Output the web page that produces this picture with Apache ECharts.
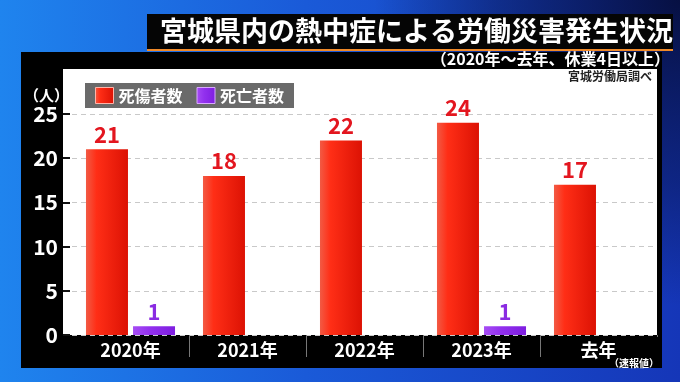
<!DOCTYPE html>
<html>
<head>
<meta charset="utf-8">
<script src="https://cdn.jsdelivr.net/npm/echarts@6/dist/echarts.min.js"></script>
<style>
html,body{margin:0;padding:0;background:#1a5ad8;}
#c{width:680px;height:382px;}
</style>
</head>
<body>
<div id="c"></div>
<script>
const titleText = '宮城県内の熱中症による労働災害発生状況';
const subtitleText = '（2020年～去年、休業4日以上）';
const sourceText = '宮城労働局調べ';
const unitText = '（人）';
const noteText = '（速報値）';
const categories = ['2020年', '2021年', '2022年', '2023年', '去年'];
const seriesNames = ['死傷者数', '死亡者数'];
const casualties = [21, 18, 22, 24, 17];
const deaths = [1, null, null, 1, null];
const yTicks = [0, 5, 10, 15, 20, 25];

const FONT = '"Noto Sans CJK JP", "Noto Sans", sans-serif';
const chart = echarts.init(document.getElementById('c'));

const redGrad = new echarts.graphic.LinearGradient(0, 0, 1, 0, [
  {offset: 0, color: '#f25a44'},
  {offset: 0.25, color: '#ff2e16'},
  {offset: 1, color: '#dc1204'}
]);
const purpleGrad = new echarts.graphic.LinearGradient(0, 0, 1, 0, [
  {offset: 0, color: '#a64cf4'},
  {offset: 0.4, color: '#9230ee'},
  {offset: 1, color: '#7e1ee0'}
]);

chart.setOption({
  animation: false,
  backgroundColor: 'transparent',
  graphic: [
    {type: 'rect', z: -100, shape: {x: 0, y: 0, width: 680, height: 382},
      style: {fill: new echarts.graphic.LinearGradient(0, 0, 1, 0, [
        {offset: 0, color: '#1f84ee'},
        {offset: 0.45, color: '#1a5ad8'},
        {offset: 1, color: '#1536b8'}
      ])}},
    {type: 'rect', z: -99, shape: {x: 0, y: 0, width: 680, height: 382},
      style: {fill: new echarts.graphic.RadialGradient(1, 0, 0.8, [
        {offset: 0, color: 'rgba(6,14,60,0.95)'},
        {offset: 0.6, color: 'rgba(8,20,80,0.5)'},
        {offset: 1, color: 'rgba(8,20,80,0)'}
      ])}},
    {type: 'rect', z: -90, shape: {x: 21, y: 52, width: 641, height: 316}, style: {fill: '#000'}},
    {type: 'rect', z: -89, shape: {x: 63, y: 69, width: 594, height: 266}, style: {fill: '#fff'}},
    {type: 'rect', z: -80, shape: {x: 147, y: 14, width: 526, height: 36}, style: {fill: '#050505'}},
    {type: 'rect', z: -79, shape: {x: 147, y: 49, width: 526, height: 2}, style: {fill: '#f08a2a'}},
    {type: 'rect', z: 50, shape: {x: 653, y: 337, width: 9, height: 26}, style: {fill: '#000'}},
    {type: 'text', z: 100, left: 160, top: 17,
      style: {text: titleText, fill: '#fff', font: 'bold 27px ' + FONT}},
    {type: 'text', z: 100, right: 10, top: 51,
      style: {text: subtitleText, fill: '#fff', font: 'bold 16px ' + FONT}},
    {type: 'text', z: 100, right: 28, top: 70,
      style: {text: sourceText, fill: '#222', font: 'bold 12px ' + FONT}},
    {type: 'text', z: 100, left: 24, top: 88,
      style: {text: unitText, fill: '#fff', font: 'bold 15px ' + FONT}},
    {type: 'text', z: 100, left: 609, top: 358,
      style: {text: noteText, fill: '#fff', font: 'bold 10px ' + FONT}}
  ],
  legend: {
    left: 85, top: 83,
    itemWidth: 18, itemHeight: 16, itemGap: 14,
    padding: [4, 10, 4, 10],
    backgroundColor: '#6a6a6a',
    textStyle: {color: '#fff', fontSize: 16, fontWeight: 'bold', fontFamily: FONT},
    data: [
      {name: seriesNames[0], icon: 'rect', itemStyle: {borderColor: '#ffb3a8', borderWidth: 1}},
      {name: seriesNames[1], icon: 'rect', itemStyle: {borderColor: '#d9a8ff', borderWidth: 1}}
    ]
  },
  grid: {left: 72, right: 23, top: 114, bottom: 47},
  xAxis: {
    type: 'category',
    data: categories,
    offset: 3,
    axisLine: {show: false},
    axisTick: {show: true, length: 22, lineStyle: {color: '#777', width: 1},
      interval: function (i) { return i > 0; }},
    axisLabel: {color: '#fff', fontSize: 18, fontWeight: 'bold', fontFamily: FONT, margin: 3}
  },
  yAxis: {
    type: 'value', min: 0, max: 25, interval: 5,
    offset: 9,
    axisLine: {show: false},
    axisTick: {show: true, inside: true, length: 7, lineStyle: {color: '#111', width: 2}},
    axisLabel: {color: '#fff', fontSize: 21, fontWeight: 'bold', fontFamily: FONT, margin: 5,
      customValues: yTicks},
    splitLine: {lineStyle: {color: '#c9c9c9', type: [5, 4], width: 1}}
  },
  series: [
    {
      name: seriesNames[0], type: 'bar', data: casualties,
      barWidth: 42, barGap: '12%',
      itemStyle: {color: redGrad},
      label: {show: true, position: 'top', distance: 4, color: '#e3161f',
        fontSize: 22, fontWeight: 'bold', fontFamily: FONT}
    },
    {
      name: seriesNames[1], type: 'bar', data: deaths,
      barWidth: 42,
      itemStyle: {color: purpleGrad},
      label: {show: true, position: 'top', distance: 4, color: '#8a2be2',
        fontSize: 22, fontWeight: 'bold', fontFamily: FONT}
    }
  ]
});
</script>
</body>
</html>
